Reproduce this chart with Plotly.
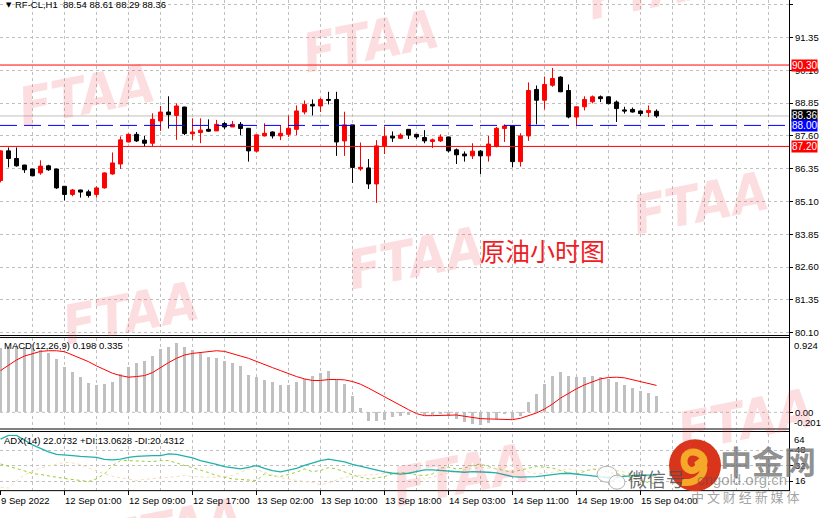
import plotly.graph_objects as go

# ------------------------------------------------------------------ data
bars = list(range(83))
open_ = [85.90, 87.03, 86.74, 86.49, 86.34, 86.19, 86.46, 86.34, 85.68, 85.37,
         85.54, 85.47, 85.37, 85.62, 86.15, 86.53, 87.37, 87.66, 87.44, 87.32,
         88.17, 88.51, 88.38, 88.70, 87.68, 87.73, 87.85, 87.79, 88.07, 87.94,
         88.04, 87.89, 87.02, 87.60, 87.75, 87.60, 87.66, 87.85, 88.51, 88.80,
         88.74, 88.99, 88.99, 87.41, 88.02, 86.34, 86.38, 85.77, 87.22, 87.59,
         87.51, 87.85, 87.66, 87.54, 87.39, 87.41, 87.56, 87.07, 86.91, 86.84,
         87.02, 86.84, 87.20, 87.88, 87.98, 86.62, 87.60, 89.37, 88.96, 89.53,
         89.84, 89.33, 88.32, 88.71, 88.90, 89.09, 89.09, 88.89, 88.59, 88.61,
         88.55, 88.49, 88.54]
high_ = [87.05, 87.16, 87.16, 86.50, 86.35, 86.67, 86.50, 86.35, 85.69, 85.58,
         85.55, 85.55, 85.68, 86.21, 86.97, 87.58, 87.69, 87.75, 87.60, 88.46,
         88.74, 89.11, 88.84, 88.71, 88.27, 88.27, 88.23, 88.21, 88.13, 88.17,
         88.13, 87.90, 87.65, 88.08, 87.77, 87.98, 88.38, 88.76, 88.95, 88.99,
         89.05, 89.28, 89.28, 88.52, 88.02, 87.35, 86.72, 87.44, 87.96, 87.77,
         87.70, 87.86, 87.67, 87.82, 87.50, 87.66, 87.57, 87.12, 87.01, 87.32,
         87.06, 87.60, 87.94, 88.04, 87.99, 87.70, 89.64, 89.52, 89.86, 90.19,
         89.87, 89.56, 88.72, 89.11, 89.14, 89.14, 89.10, 88.95, 88.71, 88.68,
         88.57, 88.76, 88.61]
low_ = [85.83, 86.40, 86.43, 86.19, 86.07, 86.12, 86.27, 85.58, 85.14, 85.30,
        85.25, 85.25, 85.25, 85.59, 86.12, 86.34, 87.35, 87.37, 87.18, 87.20,
        87.79, 87.88, 87.45, 87.63, 87.45, 87.32, 87.75, 87.79, 87.85, 87.94,
        87.63, 86.62, 86.97, 87.58, 87.50, 87.44, 87.56, 87.63, 88.42, 88.38,
        88.51, 88.80, 86.84, 86.84, 85.81, 86.27, 85.58, 85.05, 86.91, 87.37,
        87.48, 87.48, 87.48, 87.32, 87.14, 87.37, 86.97, 86.53, 86.62, 86.72,
        86.15, 86.62, 87.16, 87.37, 86.40, 86.43, 87.41, 88.04, 88.61, 89.47,
        89.27, 88.27, 88.00, 88.57, 88.84, 88.89, 88.80, 88.13, 88.45, 88.49,
        88.36, 88.32, 88.29]
close_ = [87.03, 86.74, 86.46, 86.31, 86.08, 86.45, 86.31, 85.62, 85.37, 85.54,
          85.46, 85.33, 85.62, 86.19, 86.57, 87.45, 87.66, 87.41, 87.32, 88.23,
          88.51, 88.41, 88.74, 87.69, 87.75, 87.82, 87.78, 88.04, 87.94, 88.04,
          87.88, 87.03, 87.64, 87.70, 87.60, 87.70, 87.89, 88.55, 88.80, 88.74,
          88.99, 88.96, 87.37, 88.02, 86.40, 86.40, 85.77, 87.22, 87.58, 87.52,
          87.63, 87.63, 87.56, 87.41, 87.45, 87.56, 87.03, 86.88, 86.84, 87.02,
          86.84, 87.29, 87.89, 87.98, 86.62, 87.60, 89.33, 88.96, 89.56, 89.79,
          89.28, 88.32, 88.71, 88.99, 89.09, 89.02, 88.83, 88.64, 88.55, 88.51,
          88.45, 88.57, 88.36]

macd_hist = [0.795, 0.816, 0.824, 0.816, 0.795, 0.775, 0.742, 0.659, 0.560, 0.498,
             0.441, 0.363, 0.338, 0.350, 0.383, 0.474, 0.564, 0.610, 0.635, 0.705,
             0.787, 0.816, 0.857, 0.816, 0.775, 0.733, 0.692, 0.672, 0.639, 0.610,
             0.581, 0.470, 0.437, 0.400, 0.371, 0.338, 0.334, 0.371, 0.416, 0.449,
             0.486, 0.511, 0.404, 0.350, 0.198, 0.054, -0.103, -0.111, -0.091, -0.062,
             -0.049, -0.029, -0.008, -0.029, -0.029, -0.016, -0.041, -0.082, -0.124, -0.140,
             -0.152, -0.132, -0.082, -0.016, -0.082, -0.041, 0.128, 0.227, 0.350, 0.453,
             0.499, 0.453, 0.437, 0.437, 0.453, 0.437, 0.412, 0.375, 0.338, 0.301,
             0.268, 0.239, 0.198]
macd_signal = [0.519, 0.589, 0.651, 0.700, 0.733, 0.758, 0.766, 0.766, 0.754, 0.713,
               0.672, 0.630, 0.577, 0.527, 0.486, 0.457, 0.437, 0.445, 0.457, 0.494,
               0.560, 0.618, 0.672, 0.713, 0.733, 0.742, 0.758, 0.766, 0.758, 0.733,
               0.700, 0.672, 0.630, 0.589, 0.556, 0.519, 0.478, 0.445, 0.416, 0.396,
               0.396, 0.408, 0.408, 0.404, 0.383, 0.350, 0.301, 0.247, 0.185, 0.136,
               0.082, 0.033, -0.016, -0.041, -0.041, -0.041, -0.033, -0.033, -0.049, -0.066,
               -0.078, -0.082, -0.082, -0.082, -0.091, -0.074, -0.041, -0.008, 0.041, 0.103,
               0.177, 0.239, 0.293, 0.342, 0.383, 0.416, 0.433, 0.437, 0.429, 0.404,
               0.383, 0.363, 0.335]

adx_main = [59.2, 63.0, 63.0, 57.9, 53.3, 49.7, 46.1, 43.5, 42.5, 42.2,
            41.5, 41.0, 40.5, 38.4, 37.9, 38.7, 40.5, 41.5, 42.0, 42.2,
            42.2, 44.1, 43.5, 42.0, 40.0, 37.1, 35.4, 33.3, 30.8, 29.7,
            28.5, 30.2, 32.0, 29.2, 26.7, 25.6, 27.2, 29.2, 32.3, 34.8,
            37.1, 38.7, 37.4, 35.9, 33.3, 31.3, 29.2, 27.2, 25.6, 24.1,
            23.1, 24.1, 25.6, 27.5, 27.5, 26.9, 26.1, 25.1, 25.1, 25.8,
            25.8, 25.1, 24.4, 22.4, 20.7, 20.0, 20.3, 20.7, 21.7, 22.8,
            23.8, 24.1, 23.4, 22.4, 21.3, 20.3, 19.7, 20.0, 21.0, 21.7,
            22.1, 22.1, 22.0732]
adx_plus = [33.6, 31.6, 28.9, 26.5, 23.8, 22.8, 21.7, 20.0, 18.7, 17.7,
            16.6, 15.6, 18.3, 23.4, 32.0, 37.1, 37.1, 37.1, 36.4, 36.1,
            37.1, 37.1, 34.6, 32.6, 29.5, 27.5, 24.8, 21.7, 20.0, 18.3,
            17.7, 17.2, 16.6, 23.4, 21.3, 20.7, 23.1, 25.1, 28.5, 25.8,
            26.9, 29.9, 28.5, 25.1, 22.4, 20.0, 18.3, 19.3, 20.7, 23.4,
            25.1, 24.1, 22.4, 21.7, 23.4, 29.5, 30.2, 28.5, 29.5, 32.0,
            33.6, 31.0, 28.5, 26.9, 25.1, 27.5, 29.5, 31.0, 30.2, 29.5,
            26.9, 24.4, 23.4, 26.1, 28.5, 26.9, 25.1, 23.4, 22.0, 19.0,
            16.5, 14.5, 13.0628]
adx_minus = [9.8, 8.8, 16.6, 22.4, 26.1, 29.5, 31.6, 33.6, 35.4, 34.6,
             33.0, 29.5, 26.1, 23.4, 21.0, 19.3, 17.7, 16.6, 17.7, 18.7,
             19.3, 20.0, 20.7, 21.7, 20.7, 20.0, 20.0, 20.0, 20.7, 21.7,
             25.1, 28.5, 27.9, 25.1, 21.7, 19.3, 18.0, 16.6, 15.6, 14.6,
             12.1, 14.2, 17.2, 20.0, 21.0, 21.7, 21.7, 22.4, 23.4, 24.4,
             25.1, 24.1, 22.8, 18.3, 20.0, 22.8, 24.1, 25.8, 27.5, 28.9,
             30.2, 29.5, 28.5, 30.2, 32.0, 27.5, 25.1, 23.4, 24.1, 25.1,
             26.9, 28.5, 27.5, 26.9, 28.5, 29.5, 28.5, 26.9, 25.0, 23.5,
             22.0, 21.0, 20.4312]

price_ticks = [80.10, 81.35, 82.60, 83.85, 85.10, 86.35, 87.60, 88.85, 90.10, 91.35, 92.60]
macd_labels = [0.924, 0.00, -0.201]
adx_labels = [64, 48, 32, 16]
time_label_bars = [0, 8, 16, 24, 32, 40, 48, 56, 64, 72, 80]
time_labels = ["9 Sep 2022", "12 Sep 01:00", "12 Sep 09:00", "12 Sep 17:00",
               "13 Sep 02:00", "13 Sep 10:00", "13 Sep 18:00", "14 Sep 03:00",
               "14 Sep 11:00", "14 Sep 19:00", "15 Sep 04:00"]

resist_level = 90.30
support_level = 87.20
pivot_level = 88.00
bid_level = 88.36

symbol = "RF-CL,H1"
chart_note = "原油小时图"

# ------------------------------------------------------------------ layout helpers
W, H = 829, 518
AXX = 789  # right price-axis position (px)


def px(x):
    return x / W


def py(y):
    return 1 - y / H


FONT = "Liberation Sans, Arial, sans-serif"
GRID = "#C0C0C0"
GDASH = "3px,3px"

fig = go.Figure()

fig.add_trace(go.Candlestick(
    x=bars, open=open_, high=high_, low=low_, close=close_,
    xaxis="x", yaxis="y",
    increasing=dict(line=dict(color="#FF0000", width=1), fillcolor="#FF0000"),
    decreasing=dict(line=dict(color="#000000", width=1), fillcolor="#000000"),
    whiskerwidth=0, hoverinfo="skip", showlegend=False))

fig.add_trace(go.Bar(
    x=bars, y=macd_hist, xaxis="x2", yaxis="y2", width=0.38,
    marker=dict(color="#C0C0C0", line=dict(width=0)), showlegend=False, hoverinfo="skip"))
fig.add_trace(go.Scatter(
    x=bars, y=macd_signal, xaxis="x2", yaxis="y2", mode="lines",
    line=dict(color="#FF0000", width=1), showlegend=False, hoverinfo="skip"))

fig.add_trace(go.Scatter(
    x=bars, y=adx_plus, xaxis="x3", yaxis="y3", mode="lines",
    line=dict(color="#9ACD32", width=1, dash="3px,3px"), showlegend=False, hoverinfo="skip"))
fig.add_trace(go.Scatter(
    x=bars, y=adx_minus, xaxis="x3", yaxis="y3", mode="lines",
    line=dict(color="#F5DEB3", width=1, dash="3px,3px"), showlegend=False, hoverinfo="skip"))
fig.add_trace(go.Scatter(
    x=bars, y=adx_main, xaxis="x3", yaxis="y3", mode="lines",
    line=dict(color="#20B2AA", width=1.3), showlegend=False, hoverinfo="skip"))

xr = [-0.0625, 98.5625]
xcommon = dict(domain=[0, px(AXX)], range=xr, showticklabels=False,
               tickmode="linear", tick0=0, dtick=4, showgrid=True, gridcolor=GRID,
               griddash=GDASH, gridwidth=1, zeroline=False, showline=False, fixedrange=True)
tickfont = dict(family=FONT, size=9.5, color="#000000")

fig.update_layout(
    width=W, height=H, autosize=False,
    margin=dict(l=0, r=0, t=0, b=0),
    paper_bgcolor="#FFFFFF", plot_bgcolor="#FFFFFF",
    showlegend=False, bargap=0,
    xaxis=dict(**xcommon, anchor="y", ticks="", rangeslider=dict(visible=False)),
    xaxis2=dict(**xcommon, anchor="y2", matches="x", ticks=""),
    xaxis3=dict(domain=[0, px(AXX)], range=xr, showticklabels=False, anchor="y3", matches="x",
                tickmode="array", tickvals=time_label_bars, ticks="outside", ticklen=4,
                tickcolor="#000000", showgrid=True, gridcolor=GRID, griddash=GDASH,
                minor=dict(tickmode="linear", tick0=0, dtick=4, showgrid=True, gridcolor=GRID,
                           griddash=GDASH, ticks=""),
                zeroline=False, showline=False, fixedrange=True),
    yaxis=dict(domain=[py(337), 1], range=[80.013, 92.778], anchor="x", side="right",
               tickmode="array", tickvals=price_ticks, ticktext=[f"{v:.2f}" for v in price_ticks],
               showgrid=True, gridcolor=GRID, griddash=GDASH, ticks="outside", ticklen=3,
               tickcolor="#000000", tickfont=tickfont, zeroline=False, showline=False, fixedrange=True),
    yaxis2=dict(domain=[py(431), py(340)], range=[-0.201, 0.924], anchor="x2", side="right",
                tickmode="array", tickvals=[macd_labels[1]], ticktext=[f"{macd_labels[1]:.2f}"],
                showgrid=False, ticks="outside", ticklen=3, tickcolor="#000000",
                tickfont=tickfont, zeroline=False, showline=False, fixedrange=True),
    yaxis3=dict(domain=[py(493), py(437)], range=[6.7, 64], anchor="x3", side="right",
                tickmode="array", tickvals=adx_labels[1:], ticktext=[str(v) for v in adx_labels[1:]],
                showgrid=True, gridcolor=GRID, griddash=GDASH, ticks="outside", ticklen=3,
                tickcolor="#000000", tickfont=tickfont, zeroline=False, showline=False, fixedrange=True),
)

shapes = []
# level lines
shapes.append(dict(type="line", xref="paper", yref="y", x0=0, x1=px(AXX), y0=bid_level, y1=bid_level,
                   line=dict(color="#C0C0C0", width=1), layer="below"))
shapes.append(dict(type="line", xref="paper", yref="y", x0=0, x1=px(AXX), y0=resist_level, y1=resist_level,
                   line=dict(color="#FF0000", width=1)))
shapes.append(dict(type="line", xref="paper", yref="y", x0=0, x1=px(AXX), y0=support_level, y1=support_level,
                   line=dict(color="#FF0000", width=1)))
shapes.append(dict(type="line", xref="paper", yref="y", x0=0, x1=px(AXX), y0=pivot_level, y1=pivot_level,
                   line=dict(color="#0000FF", width=1, dash="17px,7px")))
# MACD zero level
shapes.append(dict(type="line", xref="paper", yref="y2", x0=0, x1=px(AXX), y0=0, y1=0,
                   line=dict(color="#C0C0C0", width=1, dash=GDASH), layer="below"))
# panel borders
for yy in (337.5, 339.5, 431.5, 434.0, 493.5):
    shapes.append(dict(type="line", xref="paper", yref="paper", x0=0, x1=px(AXX + 1),
                       y0=py(yy), y1=py(yy), line=dict(color="#000000", width=1)))
shapes.append(dict(type="line", xref="paper", yref="paper", x0=px(AXX + 0.5), x1=px(AXX + 0.5),
                   y0=py(0), y1=py(493.5), line=dict(color="#000000", width=1)))

# WeChat outline icon (decorative)
shapes.append(dict(type="circle", xref="paper", yref="paper", xsizemode="pixel", ysizemode="pixel",
                   xanchor=px(607), yanchor=py(477), x0=-10, x1=10, y0=-8, y1=8,
                   fillcolor="rgba(255,255,255,0.8)", line=dict(color="#B0B0B0", width=1)))
shapes.append(dict(type="circle", xref="paper", yref="paper", xsizemode="pixel", ysizemode="pixel",
                   xanchor=px(617), yanchor=py(485), x0=-8, x1=8, y0=-7, y1=7,
                   fillcolor="rgba(255,255,255,0.8)", line=dict(color="#B0B0B0", width=1)))
# 中金网 logo (decorative)
lx, ly = px(695), py(468)
shapes.append(dict(type="circle", xref="paper", yref="paper", xsizemode="pixel", ysizemode="pixel",
                   xanchor=lx, yanchor=ly, x0=-26, x1=26, y0=-26, y1=26,
                   fillcolor="#D8351C", line=dict(width=0)))
shapes.append(dict(type="path", xref="paper", yref="paper", xsizemode="pixel", ysizemode="pixel",
                   xanchor=lx, yanchor=ly,
                   path="M 7,-2 C 13,7 4,15 -5,13 C -13,10 -13,-2 -5,-5 C 2,-6 6,0 2,5 "
                        "M 9,-1 C 9,-11 0,-19 -13,-17",
                   line=dict(color="#F6A828", width=7)))

fig.update_layout(shapes=shapes)

ann = []
C = dict(xanchor="center", yanchor="middle", showarrow=False)
# watermarks
for cx, cy in [(86, 96), (370, 42), (655, -12), (130, 315), (415, 260), (700, 205),
               (745, 423), (460, 478), (175, 533)]:
    ann.append(dict(**C, xref="paper", yref="paper", x=px(cx), y=py(cy), text="<b><i>FTAA</i></b>",
                    textangle=-11,
                    font=dict(family="Liberation Sans Narrow, DejaVu Sans Condensed, Liberation Sans",
                              size=54, color="rgba(235,60,80,0.17)")))

# header texts
ann.append(dict(xref="paper", yref="paper", x=px(4), y=py(5), xanchor="left", yanchor="middle",
                text="▼", showarrow=False, font=dict(family="DejaVu Sans", size=7, color="#000000")))
ann.append(dict(xref="paper", yref="paper", x=px(13), y=py(5), xanchor="left", yanchor="middle",
                text=f"{symbol}  {open_[-1]:.2f} {high_[-1]:.2f} {low_[-1]:.2f} {close_[-1]:.2f}",
                showarrow=False, font=dict(family=FONT, size=9.5, color="#000000")))
ann.append(dict(xref="paper", yref="paper", x=px(2), y=py(348), xanchor="left", yanchor="middle",
                text=f"MACD(12,26,9) {macd_hist[-1]:.3f} {macd_signal[-1]:.3f}",
                showarrow=False, font=dict(family=FONT, size=9.5, color="#000000")))
ann.append(dict(xref="paper", yref="paper", x=px(2), y=py(443), xanchor="left", yanchor="middle",
                text=f"ADX(14) {adx_main[-1]:.4f} +DI:{adx_plus[-1]:.4f} -DI:{adx_minus[-1]:.4f}",
                showarrow=False, font=dict(family=FONT, size=9.5, color="#000000")))

# indicator scale labels at window edges
ann.append(dict(xref="paper", yref="y2", x=px(AXX + 3), y=macd_labels[0], yshift=-7, xanchor="left",
                yanchor="middle", text=f"{macd_labels[0]:.3f}", showarrow=False, font=tickfont))
ann.append(dict(xref="paper", yref="y2", x=px(AXX + 3), y=macd_labels[2], yshift=6, xanchor="left",
                yanchor="middle", text=f"{macd_labels[2]:.3f}", showarrow=False, font=tickfont))
ann.append(dict(xref="paper", yref="y3", x=px(AXX + 3), y=adx_labels[0], yshift=-5, xanchor="left",
                yanchor="middle", text=f"{adx_labels[0]}", showarrow=False, font=tickfont))

# price level boxes
for lvl, bg in [(resist_level, "#FF0000"), (bid_level, "#000000"), (pivot_level, "#0000FF"),
                (support_level, "#FF0000")]:
    ann.append(dict(xref="paper", yref="y", x=px(AXX + 2), y=lvl, xanchor="left", yanchor="middle",
                    text=f"{lvl:.2f}", showarrow=False, bgcolor=bg, borderpad=0,
                    font=dict(family=FONT, size=10, color="#FFFFFF")))

# time labels
for b, t in zip(time_label_bars, time_labels):
    ann.append(dict(xref="x3", yref="paper", x=b, y=py(503), xanchor="left", yanchor="middle",
                    xshift=-2, text=t, showarrow=False, font=tickfont))

# chart note
ann.append(dict(**C, xref="paper", yref="paper", x=px(542), y=py(251), text=chart_note,
                font=dict(family="Noto Sans CJK SC", size=25, color="#EE1C25")))

# logo texts
ann.append(dict(**C, xref="paper", yref="paper", x=px(768), y=py(463), text="<b>中金网</b>",
                font=dict(family="Noto Sans CJK SC", size=32, color="rgba(115,115,115,0.8)")))
ann.append(dict(**C, xref="paper", yref="paper", x=px(656), y=py(481), text="微信号",
                font=dict(family="Noto Sans CJK SC", size=19, color="rgba(80,80,80,0.85)")))
ann.append(dict(**C, xref="paper", yref="paper", x=px(742), y=py(482), text="cngold.org.cn",
                font=dict(family=FONT, size=15, color="rgba(80,80,80,0.5)")))
ann.append(dict(**C, xref="paper", yref="paper", x=px(745), y=py(499), text="中 文 财 经 新 媒 体",
                font=dict(family="Noto Sans CJK SC", size=13, color="rgba(140,140,140,0.8)")))

fig.update_layout(annotations=ann)

fig.write_html("out.html", config={"displayModeBar": False},
               post_script="document.body.style.margin='0';document.body.style.overflow='hidden';")
